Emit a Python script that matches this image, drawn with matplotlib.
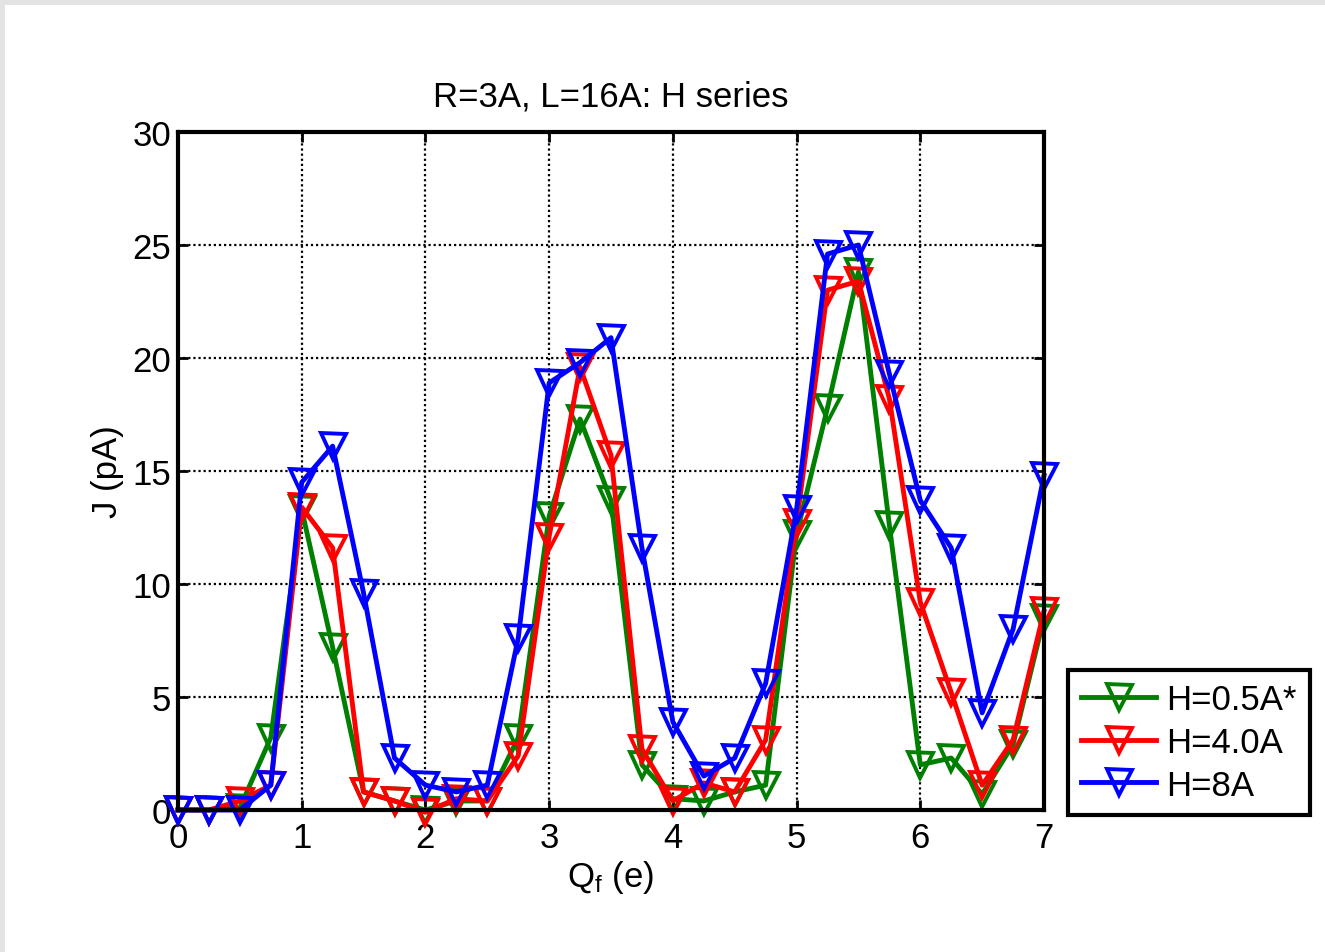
import matplotlib
matplotlib.use("Agg")
import matplotlib.pyplot as plt
from matplotlib.patches import Rectangle
import numpy as np

plt.rcParams['font.family'] = ['Liberation Sans', 'DejaVu Sans']
plt.rcParams['mathtext.fontset'] = 'custom'
plt.rcParams['mathtext.rm'] = 'Liberation Sans'
plt.rcParams['mathtext.it'] = 'Liberation Sans'

qf = [0, 0.25, 0.5, 0.75, 1.0, 1.25, 1.5, 1.75, 2.0, 2.25, 2.5, 2.75, 3.0, 3.25, 3.5,
      3.75, 4.0, 4.25, 4.5, 4.75, 5.0, 5.25, 5.5, 5.75, 6.0, 6.25, 6.5, 6.75, 7.0]
h05 = [0, 0, 0.1, 3.2, 13.3, 7.2, 0.8, 0.4, 0.0, 0.4, 0.4, 3.2, 13.0, 17.3, 13.7,
       2.0, 0.5, 0.4, 0.8, 1.1, 12.2, 17.8, 23.8, 12.6, 2.0, 2.3, 0.7, 2.9, 8.5]
h40 = [0, 0, 0.4, 1.1, 13.4, 11.6, 0.8, 0.4, -0.1, 0.5, 0.4, 2.4, 12.1, 19.6, 15.7,
       2.7, 0.4, 1.2, 0.8, 3.1, 12.7, 23.0, 23.4, 18.2, 9.2, 5.2, 1.1, 3.1, 8.8]
h8 = [0, 0, 0, 1.1, 14.5, 16.1, 9.6, 2.3, 1.1, 0.8, 1.1, 7.6, 18.9, 19.8, 20.9,
      11.6, 3.9, 1.5, 2.3, 5.6, 13.3, 24.6, 25.0, 19.3, 13.7, 11.6, 4.3, 8.0, 14.8]
labels = ['H=0.5A*', 'H=4.0A', 'H=8A']
colors = ['#008000', '#ff0000', '#0000ff']

FS = 25

fig = plt.figure(figsize=(13.25, 9.53), dpi=100)
fig.patches.append(Rectangle((0, 1 - 6/953), 1, 6/953, transform=fig.transFigure,
                             facecolor='#e3e3e3', edgecolor='none', zorder=0))
fig.patches.append(Rectangle((0, 0), 5/1325, 1, transform=fig.transFigure,
                             facecolor='#e3e3e3', edgecolor='none', zorder=0))

ax = fig.add_axes([178/1325, 1 - 811/953, (1044-178)/1325, (811-133)/953])
for y, lab, c in zip([h05, h40, h8], labels, colors):
    ax.plot(qf, y, color=c, lw=3.5, marker='v', markersize=18, fillstyle='none',
            markeredgewidth=2.8, label=lab, clip_on=False)

ax.set_xlim(0, 7)
ax.set_ylim(0, 30)
ax.set_xticks(range(0, 8))
ax.set_yticks(range(0, 31, 5))
ax.grid(True, color='black', linestyle=(0, (1, 1.3)), linewidth=1.6)
ax.tick_params(direction='in', length=7, width=2, labelsize=FS, top=True, right=True)
ax.tick_params(axis='x', pad=8)
ax.tick_params(axis='y', pad=5)
for s in ax.spines.values():
    s.set_linewidth(3)
ax.set_title('R=3A, L=16A: H series', fontsize=FS, pad=19)
ax.set_xlabel(r'$\mathregular{Q_{f}}$ (e)', fontsize=FS, labelpad=3)
ax.set_ylabel('J (pA)', fontsize=FS, labelpad=6)

leg = ax.legend(loc='upper left', bbox_to_anchor=(1068/1325, 1 - 671/953),
                bbox_transform=fig.transFigure, borderaxespad=0, fontsize=FS,
                frameon=True, fancybox=False, edgecolor='black', framealpha=1,
                handlelength=2.15, handletextpad=0.3, labelspacing=0.28, borderpad=0.38)
leg.get_frame().set_linewidth(3)

fig.savefig('out.png', dpi=100)
